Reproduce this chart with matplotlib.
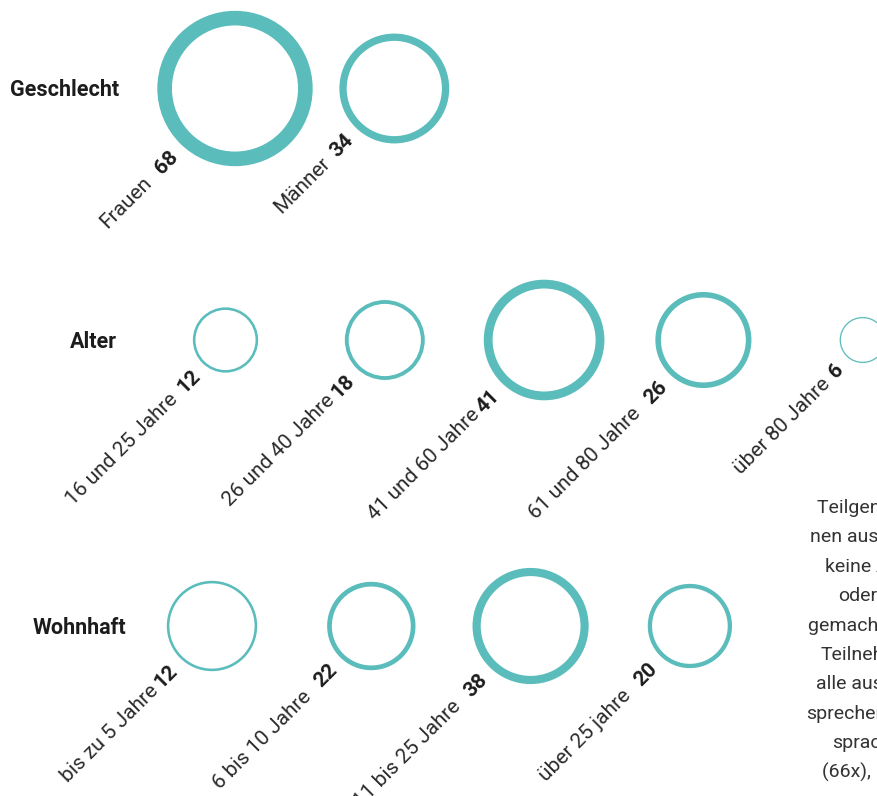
import numpy as np
import matplotlib.pyplot as plt
from matplotlib.patches import Circle

# data
geschlecht_labels = ["Frauen", "Männer"]
geschlecht_values = [68, 34]

alter_labels = ["16 und 25 Jahre", "26 und 40 Jahre", "41 und 60 Jahre",
                "61 und 80 Jahre", "über 80 Jahre"]
alter_values = [12, 18, 41, 26, 6]

wohnhaft_labels = ["bis zu 5 Jahre", "6 bis 10 Jahre", "11 bis 25 Jahre", "über 25 jahre"]
wohnhaft_values = [12, 22, 38, 20]
# the first circle in this row is drawn bigger than its value in the original
wohnhaft_area = [23, 22, 38, 20]

# extra space between label and number (in spaces) as seen in the picture
geschlecht_gap = [2, 1]
alter_gap = [1, 0, 0, 2, 1]
wohnhaft_gap = [0, 2, 2, 2]

side_text = ["Teilgenommen haben", "nen aus der ganzen", "keine Angabe",
             "oder", "gemacht haben.", "Teilnehmende", "alle aus",
             "sprechen", "sprachen", "(66x), Englisch"]

# layout (pixels)
W, H = 877, 796
TEAL = '#5bbcbc'
INK = '#1c1c1c'
FONT = 'Roboto'
r_scale = 9.42      # outer radius = r_scale * sqrt(value)
lw_scale = 0.215    # stroke width (px) per unit value
step = 159.3

rows = [
    ("Geschlecht", 10, 88.5, 235, geschlecht_labels, geschlecht_values, geschlecht_values, geschlecht_gap),
    ("Alter", 70, 340, 225.5, alter_labels, alter_values, alter_values, alter_gap),
    ("Wohnhaft", 33, 626, 212, wohnhaft_labels, wohnhaft_values, wohnhaft_area, wohnhaft_gap),
]

fig = plt.figure(figsize=(W / 100, H / 100), dpi=100)
ax = fig.add_axes([0, 0, 1, 1])
ax.set_xlim(0, W)
ax.set_ylim(H, 0)
ax.axis('off')
renderer = fig.canvas.get_renderer()

d = np.array([1, -1]) / np.sqrt(2)  # text direction (data coords, y down)


def text_width(s, **kw):
    t = ax.text(0, 0, s, **kw)
    w = t.get_window_extent(renderer).width
    t.remove()
    return w


lab_kw = dict(fontsize=15, family=FONT, fontweight='normal', color='#2a2a2a')
num_kw = dict(fontsize=15, family=FONT, fontweight='bold', color=INK)
space_w = text_width("a a", **lab_kw) - text_width("aa", **lab_kw)

for title, tx, cy, x0, labels, values, areas, gaps in rows:
    ax.text(tx, cy + 7.5, title, fontsize=15.5, family=FONT, fontweight='bold',
            color=INK, ha='left', va='baseline')
    for i, (lab, v, a, g) in enumerate(zip(labels, values, areas, gaps)):
        cx = x0 + i * step
        lw_px = lw_scale * v
        r_out = r_scale * np.sqrt(a)
        ax.add_patch(Circle((cx, cy), r_out - lw_px / 2, fill=False,
                            edgecolor=TEAL, linewidth=lw_px * 0.72))
        # number sits just below-left of the ring, label runs on from it
        along = r_out + 11
        perp = 9
        px = cx + (-along + perp) / np.sqrt(2)
        py = cy + (along + perp) / np.sqrt(2)
        ax.text(px, py, str(v), rotation=45, rotation_mode='anchor',
                ha='right', va='baseline', **num_kw)
        wn = text_width(str(v), **num_kw)
        off = wn + (g + 0.6) * space_w
        lx, ly = np.array([px, py]) - off * d
        ax.text(lx, ly, lab, rotation=45, rotation_mode='anchor',
                ha='right', va='baseline', **lab_kw)

side_x = [817, 810, 825, 838, 808, 821, 816, 806, 832, 822]
for j, (s, x) in enumerate(zip(side_text, side_x)):
    ax.text(x, 508 + j * 29.4, s, fontsize=14, family=FONT, fontweight='normal',
            color='#333333', ha='left', va='center', clip_on=False)

fig.savefig('out.png', dpi=100)
